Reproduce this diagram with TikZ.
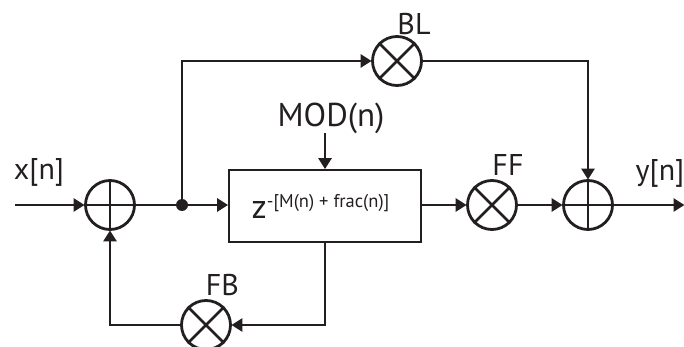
\documentclass[tikz,border=0pt]{standalone}
\usepackage{fontspec}
\setmainfont{PT Sans}
\usetikzlibrary{arrows.meta}
\definecolor{ink}{HTML}{231F20}
\tikzset{
  wire/.style={line width=2.8pt,draw=ink},
  arrow/.style={wire,-{Triangle[length=11pt,width=13pt]},shorten >=-0.5pt},
  junction/.style={circle,draw=ink,line width=2.8pt,minimum size=49pt,inner sep=0pt},
  delaybox/.style={draw=ink,line width=2.8pt,minimum width=192pt,minimum height=72pt,inner sep=0pt},
  lbl/.style={text=ink,font=\fontsize{30}{32}\selectfont,inner sep=0pt},
  dotnode/.style={circle,fill=ink,minimum size=12pt,inner sep=0pt}
}
\newcommand{\sumcross}[1]{\draw[wire] (#1.north)--(#1.south) (#1.west)--(#1.east);}
\newcommand{\mulcross}[1]{\draw[wire] (#1.north west)--(#1.south east) (#1.north east)--(#1.south west);}
\begin{document}
\begin{tikzpicture}[x=1pt,y=-1pt]
\useasboundingbox (0,0) rectangle (684,347);
\clip (0,0) rectangle (684,347);
\node[junction] (s1) at (110,205) {};
\node[junction] (s2) at (588,205) {};
\node[junction] (bl) at (397,61) {};
\node[junction] (ff) at (492,205) {};
\node[junction] (fb) at (206,325) {};
\node[dotnode] (d) at (182,205) {};
\node[delaybox] (box) at (325,206) {};
\node[text=ink,inner sep=0pt,anchor=center] (zt) at (320.5,206) {\fontsize{34}{36}\selectfont z\raisebox{11pt}{\fontsize{18.5}{21}\selectfont -[M(n) + frac(n)]}};
\sumcross{s1}\sumcross{s2}\mulcross{bl}\mulcross{ff}\mulcross{fb}
\coordinate (in) at (15,205);
\coordinate (out) at (684,205);
\coordinate (modtop) at (325,133);
\coordinate (tl) at (182,61);
\coordinate (tr) at (588,61);
\coordinate (br) at (325,325);
\coordinate (bm) at (110,325);
\draw[arrow] (in)--(s1.west);
\draw[wire] (s1.east)--(d.center);
\draw[arrow] (d.center)--(box.west |- d);
\draw[arrow] (d.center)--(tl)--(bl.west);
\draw[arrow] (bl.east)--(tr)--(s2.north);
\draw[arrow] (modtop)--(box.north);
\draw[arrow] (box.east |- ff)--(ff.west);
\draw[arrow] (ff.east)--(s2.west);
\draw[arrow] (s2.east)--(out);
\draw[arrow] (box.south -| br)--(br)--(fb.east);
\draw[arrow] (fb.west)--(bm)--(s1.south);
\node[lbl] (xl) at (39,172) {x[n]};
\node[lbl] (yl) at (660,173) {y[n]};
\node[lbl] (bll) at (414,24) {BL};
\node[lbl] (ffl) at (508,165) {FF};
\node[lbl] (fbl) at (222.5,285) {FB};
\node[lbl] (modl) at (331,118) {\fontsize{33}{35}\selectfont MOD(n)};
\end{tikzpicture}
\end{document}
